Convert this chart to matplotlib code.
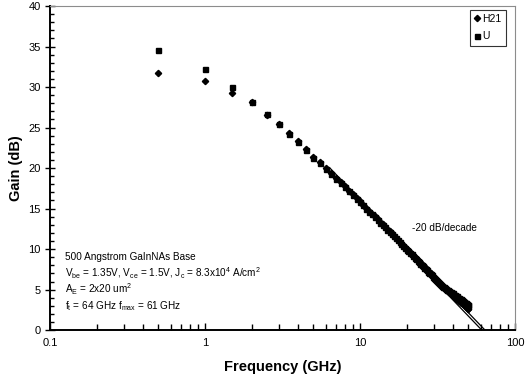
import matplotlib
matplotlib.use("Agg")
import matplotlib.pyplot as plt
import numpy as np
from matplotlib.ticker import MultipleLocator, FixedLocator, NullFormatter

plt.rcParams['font.family'] = ['Liberation Sans', 'DejaVu Sans']
plt.rcParams['mathtext.fontset'] = 'custom'
plt.rcParams['mathtext.rm'] = 'Liberation Sans'
plt.rcParams['mathtext.it'] = 'Liberation Sans:italic'

# measured sweep, GHz
freq = [0.5, 1.0, 1.5, 2.0, 2.5, 3.0, 3.5, 4.0, 4.5, 5.0,
        5.5, 6.0, 6.5, 7.0, 7.5, 8.0, 8.5, 9.0, 9.5, 10.0,
        10.5, 11.0, 11.5, 12.0, 12.5, 13.0, 13.5, 14.0, 14.5, 15.0,
        15.5, 16.0, 16.5, 17.0, 17.5, 18.0, 18.5, 19.0, 19.5, 20.0,
        20.5, 21.0, 21.5, 22.0, 22.5, 23.0, 23.5, 24.0, 24.5, 25.0,
        25.5, 26.0, 26.5, 27.0, 27.5, 28.0, 28.5, 29.0, 29.5, 30.0,
        30.5, 31.0, 31.5, 32.0, 32.5, 33.0, 33.5, 34.0, 34.5, 35.0,
        35.5, 36.0, 36.5, 37.0, 37.5, 38.0, 38.5, 39.0, 39.5, 40.0,
        40.5, 41.0, 41.5, 42.0, 42.5, 43.0, 43.5, 44.0, 44.5, 45.0,
        45.5, 46.0, 46.5, 47.0, 47.5, 48.0, 48.5, 49.0, 49.5, 50.0]

h21 = [31.7, 30.7, 29.3, 28.1, 26.6, 25.4, 24.3, 23.3, 22.3, 21.4,
       20.7, 20.0, 19.4, 18.8, 18.25, 17.74, 17.23, 16.77, 16.33, 15.90,
       15.50, 15.10, 14.74, 14.38, 14.03, 13.70, 13.38, 13.08, 12.77, 12.48,
       12.20, 11.94, 11.67, 11.42, 11.17, 10.93, 10.70, 10.47, 10.25, 10.03,
       9.86, 9.66, 9.45, 9.25, 9.06, 8.87, 8.68, 8.50, 8.32, 8.14,
       7.97, 7.80, 7.64, 7.47, 7.31, 7.16, 7.00, 6.85, 6.70, 6.56,
       6.41, 6.27, 6.13, 6.00, 5.86, 5.73, 5.60, 5.47, 5.34, 5.22,
       5.12, 5.01, 4.91, 4.82, 4.72, 4.62, 4.53, 4.43, 4.34, 4.25,
       4.15, 4.06, 3.98, 3.89, 3.80, 3.71, 3.63, 3.54, 3.46, 3.38,
       3.29, 3.20, 3.12, 3.04, 2.96, 2.88, 2.80, 2.72, 2.64, 2.56]

u = [34.6, 32.2, 30.0, 28.1, 26.7, 25.4, 24.2, 23.2, 22.2, 21.3,
     20.6, 19.9, 19.3, 18.7, 18.15, 17.64, 17.13, 16.67, 16.23, 15.80,
     15.40, 15.00, 14.64, 14.28, 13.93, 13.60, 13.28, 12.98, 12.67, 12.38,
     12.10, 11.84, 11.57, 11.32, 11.07, 10.83, 10.60, 10.37, 10.15, 9.93,
     9.76, 9.56, 9.35, 9.15, 8.96, 8.77, 8.58, 8.40, 8.22, 8.04,
     7.87, 7.70, 7.54, 7.37, 7.21, 7.06, 6.90, 6.75, 6.60, 6.46,
     6.33, 6.20, 6.08, 5.96, 5.84, 5.72, 5.61, 5.49, 5.38, 5.27,
     5.19, 5.09, 5.01, 4.93, 4.85, 4.76, 4.69, 4.60, 4.53, 4.45,
     4.37, 4.29, 4.23, 4.15, 4.08, 4.00, 3.94, 3.86, 3.80, 3.73,
     3.66, 3.58, 3.52, 3.45, 3.39, 3.32, 3.26, 3.19, 3.13, 3.06]

ft = 64.0
fmax = 61.0

fig = plt.figure(figsize=(5.31, 3.79), dpi=100)
ax = fig.add_axes([0.094, 0.129, 0.876, 0.855])

# -20 dB/decade extrapolations
for f0 in (ft, fmax):
    fl = np.array([f0 / 10.0, f0 * 1.2])
    ax.plot(fl, 20 * np.log10(f0 / fl), color='black', lw=0.9, zorder=2)

ax.plot(freq, h21, linestyle='none', marker='D', markersize=3.2,
        color='black', label='H21', zorder=3)
ax.plot(freq, u, linestyle='none', marker='s', markersize=3.6,
        color='black', label='U', zorder=3)

ax.set_xscale('log')
ax.set_xlim(0.1, 100)
ax.set_ylim(0, 40)

ax.xaxis.set_major_locator(FixedLocator([0.1, 1, 10, 100]))
ax.set_xticklabels(['0.1', '1', '10', '100'])
ax.xaxis.set_minor_locator(FixedLocator(
    [m * d for d in (0.1, 1, 10) for m in range(2, 10)]))
ax.xaxis.set_minor_formatter(NullFormatter())
ax.yaxis.set_major_locator(MultipleLocator(5))
ax.yaxis.set_minor_locator(MultipleLocator(1))

ax.tick_params(axis='x', which='major', direction='in', length=5, width=1,
               labelsize=8, pad=6, top=False)
ax.tick_params(axis='x', which='minor', direction='in', length=4, width=1,
               top=False)
ax.tick_params(axis='y', which='major', direction='inout', length=7, width=1,
               labelsize=8, pad=3, right=False)
ax.tick_params(axis='y', which='minor', direction='in', length=3, width=1,
               right=False)

for s in ('left', 'bottom'):
    ax.spines[s].set_linewidth(1.4)
    ax.spines[s].set_color('black')
for s in ('top', 'right'):
    ax.spines[s].set_linewidth(0.8)
    ax.spines[s].set_color('#8c8c8c')

ax.set_xlabel('Frequency (GHz)', fontsize=10.5, fontweight='bold', labelpad=8)
ax.set_ylabel('Gain (dB)', fontsize=10.5, fontweight='bold', labelpad=4)

leg = ax.legend(loc='upper right', bbox_to_anchor=(0.98, 0.988),
                fontsize=7.5, frameon=True, fancybox=False,
                edgecolor='black', handlelength=0.5, handletextpad=0.3,
                borderpad=0.4, labelspacing=0.7, borderaxespad=0)
leg.get_frame().set_linewidth(0.8)

ax.text(21.5, 12.6, '-20 dB/decade', fontsize=7.2, ha='left', va='center')

info = ['500 Angstrom GaInNAs Base',
        r'V$\mathregular{_{be}}$ = 1.35V, V$\mathregular{_{ce}}$ = 1.5V, '
        r'J$\mathregular{_c}$ = 8.3x10$\mathregular{^4}$ A/cm$\mathregular{^2}$',
        r'A$\mathregular{_E}$ = 2x20 um$\mathregular{^2}$',
        r'f$\mathregular{_t}$ = 64 GHz f$\mathregular{_{max}}$ = 61 GHz']
for i, line in enumerate(info):
    ax.text(0.126, 9.0 - 2.0 * i, line, fontsize=7.2, ha='left', va='center')

fig.savefig('out.png', dpi=100)
